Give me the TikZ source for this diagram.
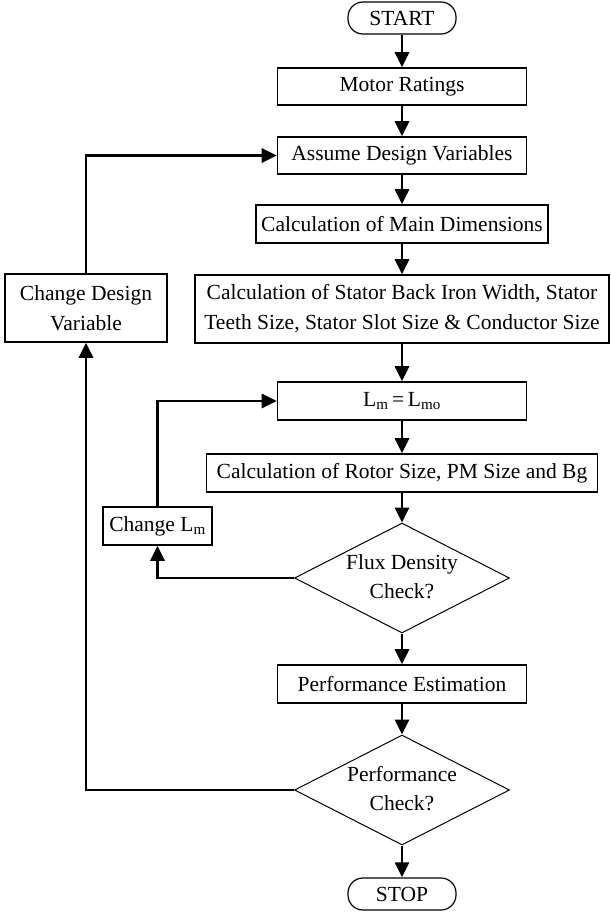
\documentclass[tikz,border=0pt]{standalone}
\usepackage{fontspec}
\setmainfont{Liberation Serif}
\usetikzlibrary{arrows.meta,shapes.geometric}
\begin{document}
\begin{tikzpicture}[x=1bp,y=-1bp,
  txt/.style={font=\fontsize{21.6}{30}\selectfont},
  box/.style={txt,draw,line width=1.6bp,inner sep=0pt,align=center},
  term/.style={box,line width=1.2bp,rounded corners=15bp,minimum width=108bp,minimum height=32bp},
  dia/.style={txt,draw,shape=diamond,line width=1bp,inner sep=0pt,minimum width=215bp,minimum height=110bp},
  conn/.style={line width=2.8bp,-{Triangle[width=14bp,length=15bp]}}]
\useasboundingbox (0,0) rectangle (611,913);
\node[term] (start) at (402,18) {START};
\node[box,minimum width=249bp,minimum height=37bp] (motor) at (402,86.5) {Motor Ratings};
\node[box,minimum width=249bp,minimum height=37bp] (assume) at (402,155.5) {Assume Design Variables};
\node[box,minimum width=292bp,minimum height=38bp] (main) at (402,224) {Calculation of Main Dimensions};
\node[box,minimum width=414bp,minimum height=68bp] (stator) at (402,309) {Calculation of Stator Back Iron Width, Stator\\Teeth Size, Stator Slot Size \& Conductor Size};
\node[box,minimum width=249bp,minimum height=38bp] (lm) at (402,401) {L\textsubscript{m}\,=\,L\textsubscript{mo}};
\node[box,minimum width=391bp,minimum height=38bp] (rotor) at (402,473) {Calculation of Rotor Size, PM Size and Bg};
\node[dia] (fc) at (402,578) {\makebox[0pt]{\begin{tabular}{@{}c@{}}Flux Density\\Check?\end{tabular}}};
\node[box,minimum width=109bp,minimum height=38bp] (clm) at (157.5,526) {Change L\textsubscript{m}};
\node[box,minimum width=249bp,minimum height=38bp] (pe) at (402,684) {Performance Estimation};
\node[dia] (pc) at (402,790) {\makebox[0pt]{\begin{tabular}{@{}c@{}}Performance\\Check?\end{tabular}}};
\node[term] (stop) at (402,894) {STOP};
\node[box,minimum width=162bp,minimum height=68bp] (cdv) at (86,308) {Change Design\\Variable};
\draw[conn] (start) -- (motor);
\draw[conn] (motor) -- (assume);
\draw[conn] (assume) -- (main);
\draw[conn] (main) -- (stator);
\draw[conn] (stator) -- (lm);
\draw[conn] (lm) -- (rotor);
\draw[conn] (rotor) -- (fc);
\draw[conn] (fc) -- (pe);
\draw[conn] (pe) -- (pc);
\draw[conn] (pc) -- (stop);
\draw[conn] (fc.west) -| (clm.south);
\draw[conn] (clm.north) |- (lm.west);
\draw[conn] (pc.west) -| (cdv.south);
\draw[conn] (cdv.north) |- (assume.west);
\end{tikzpicture}
\end{document}
